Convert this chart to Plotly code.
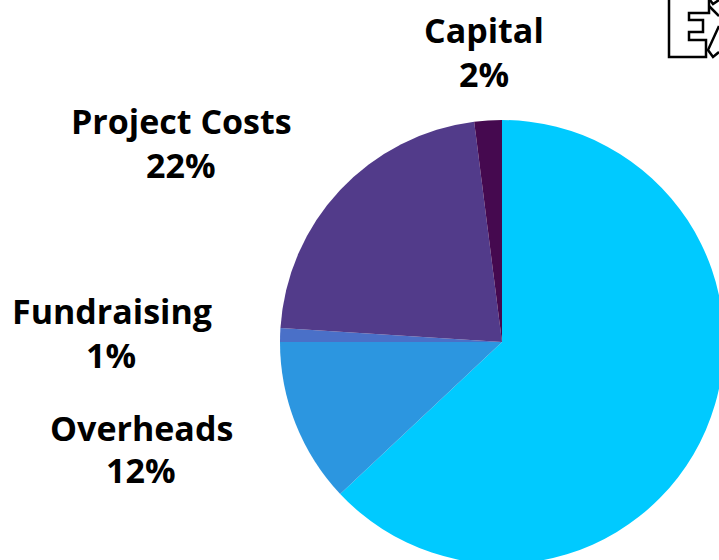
import plotly.graph_objects as go

# ---- data ----
labels = ["Charitable Activities", "Overheads", "Fundraising", "Project Costs", "Capital"]
values = [63, 12, 1, 22, 2]
colors = ["#00CAFF", "#2C96E0", "#4A70C8", "#523B8A", "#45094F"]

# label positions (pixel centre of name line, pixel centre of percent line)
label_pos = {
    "Capital": (484, 30, 484, 74),
    "Project Costs": (181, 121, 181, 165),
    "Fundraising": (112, 311, 111, 355),
    "Overheads": (141, 428, 141, 470),
}

W, H = 800, 600


def px(x):
    return x / W


def py(y):
    return 1 - y / H


fig = go.Figure()
fig.add_trace(go.Pie(
    labels=labels, values=values, sort=False, direction="clockwise", rotation=0,
    marker=dict(colors=colors, line=dict(width=0)),
    textinfo="none", hoverinfo="label+percent", showlegend=False,
    domain=dict(x=[0.35, 0.905], y=[0.06, 0.80]),
))

font = dict(family="Open Sans, sans-serif", size=34, color="#000000", weight="bold")
annotations = []
for lab, val in zip(labels, values):
    if lab not in label_pos:
        continue
    x1, y1, x2, y2 = label_pos[lab]
    annotations.append(dict(text=lab, x=px(x1), y=py(y1), xref="paper", yref="paper",
                            xanchor="center", yanchor="middle", showarrow=False, font=font))
    annotations.append(dict(text=f"{val}%", x=px(x2), y=py(y2), xref="paper", yref="paper",
                            xanchor="center", yanchor="middle", showarrow=False, font=font))

# decorative logo (outline "E" and part of "X") at top-right
def path(points, close=True):
    d = "M " + " L ".join(f"{px(x)},{py(y)}" for x, y in points)
    return d + (" Z" if close else "")

e_pts = [(669, -3), (709, -3), (709, 13), (689, 13), (689, 20), (703, 20), (703, 32),
         (689, 32), (689, 40), (706, 40), (706, 57), (669, 57)]
shapes = [
    dict(type="path", path=path(e_pts), xref="paper", yref="paper",
         line=dict(color="#000000", width=2.5), fillcolor="#FFFFFF"),
    dict(type="path", path=path([(710, 0), (713, 4), (719, 0)], close=False), xref="paper", yref="paper",
         line=dict(color="#000000", width=2.5)),
    dict(type="path", path=path([(709, 6), (719, 16)], close=False), xref="paper", yref="paper",
         line=dict(color="#000000", width=2.5)),
    dict(type="path", path=path([(719, 26), (708, 50), (713, 57), (719, 52)], close=False),
         xref="paper", yref="paper", line=dict(color="#000000", width=2.5)),
]

fig.update_layout(
    width=W, height=H, margin=dict(l=0, r=0, t=0, b=0),
    paper_bgcolor="#FFFFFF", plot_bgcolor="#FFFFFF",
    annotations=annotations, shapes=shapes,
)

fig.write_html("out.html", post_script="document.body.style.margin='0';document.body.style.overflow='hidden';document.documentElement.style.overflow='hidden';")
